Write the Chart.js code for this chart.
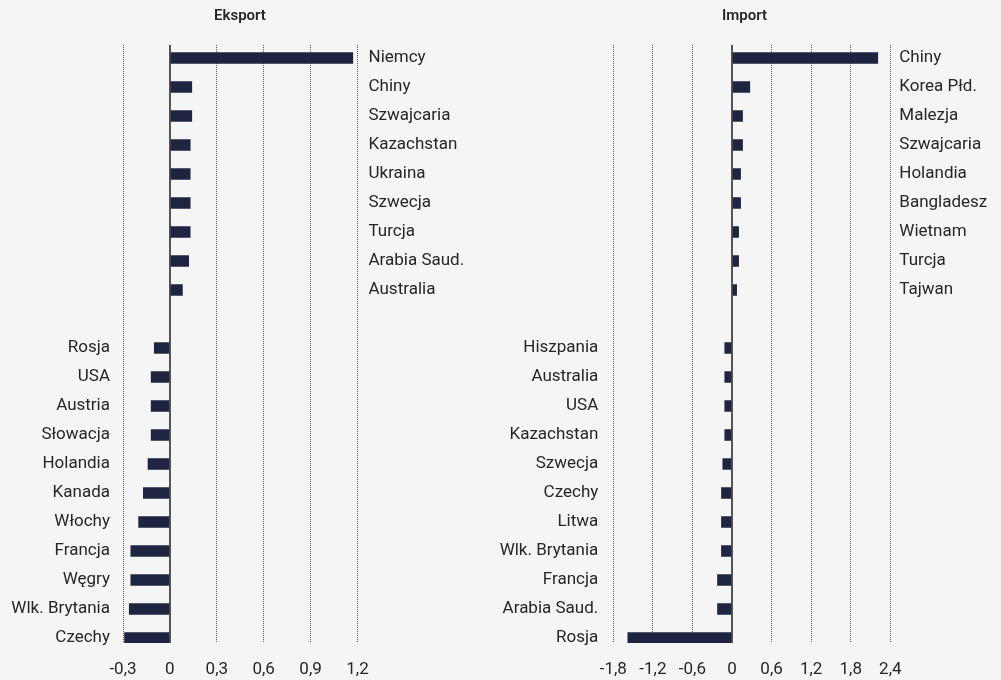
<!DOCTYPE html>
<html>
<head>
<meta charset="utf-8">
<script src="https://cdn.jsdelivr.net/npm/chart.js@4/dist/chart.umd.min.js"></script>
<style>
  html, body { margin: 0; padding: 0; background: #f5f5f5; }
  #wrap { position: relative; width: 1001px; height: 680px; overflow: hidden; }
  .panel { position: absolute; top: 0; height: 680px; }
</style>
</head>
<body>
<div id="wrap">
  <div class="panel" style="left:0;width:480px"><canvas id="exportChart"></canvas></div>
  <div class="panel" style="left:488px;width:513px"><canvas id="importChart"></canvas></div>
</div>
<script>
// Export: largest increases (top) and decreases (bottom)
const exportTopNames = ['Niemcy', 'Chiny', 'Szwajcaria', 'Kazachstan', 'Ukraina', 'Szwecja', 'Turcja', 'Arabia Saud.', 'Australia'];
const exportTopValues = [1.17, 0.14, 0.14, 0.13, 0.13, 0.13, 0.13, 0.12, 0.08];
const exportBottomNames = ['Rosja', 'USA', 'Austria', 'Słowacja', 'Holandia', 'Kanada', 'Włochy', 'Francja', 'Węgry', 'Wlk. Brytania', 'Czechy'];
const exportBottomValues = [-0.10, -0.12, -0.12, -0.12, -0.14, -0.17, -0.20, -0.25, -0.25, -0.26, -0.29];
const exportTicks = [-0.3, 0, 0.3, 0.6, 0.9, 1.2];

// Import: largest increases (top) and decreases (bottom)
const importTopNames = ['Chiny', 'Korea Płd.', 'Malezja', 'Szwajcaria', 'Holandia', 'Bangladesz', 'Wietnam', 'Turcja', 'Tajwan'];
const importTopValues = [2.21, 0.27, 0.16, 0.16, 0.13, 0.13, 0.10, 0.10, 0.07];
const importBottomNames = ['Hiszpania', 'Australia', 'USA', 'Kazachstan', 'Szwecja', 'Czechy', 'Litwa', 'Wlk. Brytania', 'Francja', 'Arabia Saud.', 'Rosja'];
const importBottomValues = [-0.11, -0.11, -0.11, -0.11, -0.14, -0.16, -0.16, -0.16, -0.22, -0.22, -1.58];
const importTicks = [-1.8, -1.2, -0.6, 0, 0.6, 1.2, 1.8, 2.4];

const FONT = 'Roboto, "Liberation Sans", sans-serif';
const BAR = '#1f2540';
const TEXT = '#262626';

const fmt = v => Math.abs(v) < 1e-9 ? '0' : v.toFixed(1).replace('.', ',');

function drawPanel(canvasId, title, topNames, topValues, bottomNames, bottomValues, xTicks, geo) {
  // one empty row separates the two groups
  const names = [...topNames, '', ...bottomNames];
  const values = [...topValues, null, ...bottomValues];
  const points = [];
  values.forEach((v, i) => { if (v !== null) points.push({ x: v, y: i }); });
  const lastRow = names.length - 1;

  const rowAxis = (position, width, pad, sign) => ({
    type: 'linear',
    position,
    reverse: true,
    offset: false,
    bounds: 'data',
    min: -0.448,
    max: lastRow + 0.172,
    grid: { display: false, drawTicks: false, offset: false },
    border: { display: false },
    afterBuildTicks: s => { s.ticks = names.map((_, i) => ({ value: i })); },
    afterFit: s => { s.width = width; },
    ticks: {
      autoSkip: false,
      padding: pad,
      color: TEXT,
      font: { family: FONT, size: 17 },
      callback: v => (values[v] !== null && values[v] !== undefined && Math.sign(values[v]) === sign) ? names[v] : ''
    }
  });

  return new Chart(document.getElementById(canvasId), {
    type: 'bar',
    data: {
      datasets: [{
        data: points,
        backgroundColor: BAR,
        borderWidth: 0,
        barThickness: 11,
        yAxisID: 'y'
      }]
    },
    options: {
      indexAxis: 'y',
      responsive: true,
      maintainAspectRatio: false,
      animation: false,
      layout: { padding: 0 },
      plugins: {
        legend: { display: false },
        tooltip: { enabled: false },
        title: {
          display: true,
          text: title,
          color: TEXT,
          font: { family: FONT, size: 15, weight: '600' },
          padding: { top: 7, bottom: 20 }
        }
      },
      scales: {
        x: {
          type: 'linear',
          min: xTicks[0],
          max: xTicks[xTicks.length - 1],
          afterBuildTicks: s => { s.ticks = xTicks.map(v => ({ value: v })); },
          afterFit: s => { s.height = 37; },
          grid: {
            drawTicks: false,
            color: c => (c.tick && Math.abs(c.tick.value) < 1e-9) ? '#555555' : '#5a5a5a',
            lineWidth: c => (c.tick && Math.abs(c.tick.value) < 1e-9) ? 2 : 1
          },
          border: {
            display: false,
            dash: c => (c.tick && Math.abs(c.tick.value) < 1e-9) ? [] : [1, 1]
          },
          ticks: {
            padding: 17,
            color: TEXT,
            font: { family: FONT, size: 17 },
            callback: v => fmt(v)
          }
        },
        y: rowAxis('left', geo.left, geo.padLeft, -1),
        y2: rowAxis('right', geo.right, geo.padRight, 1)
      }
    }
  });
}

drawPanel('exportChart', 'Eksport', exportTopNames, exportTopValues, exportBottomNames, exportBottomValues, exportTicks,
  { left: 123, right: 122.5, padLeft: 13, padRight: 11 });
drawPanel('importChart', 'Import', importTopNames, importTopValues, importBottomNames, importBottomValues, importTicks,
  { left: 125.3, right: 110.7, padLeft: 15, padRight: 9 });
</script>
</body>
</html>
